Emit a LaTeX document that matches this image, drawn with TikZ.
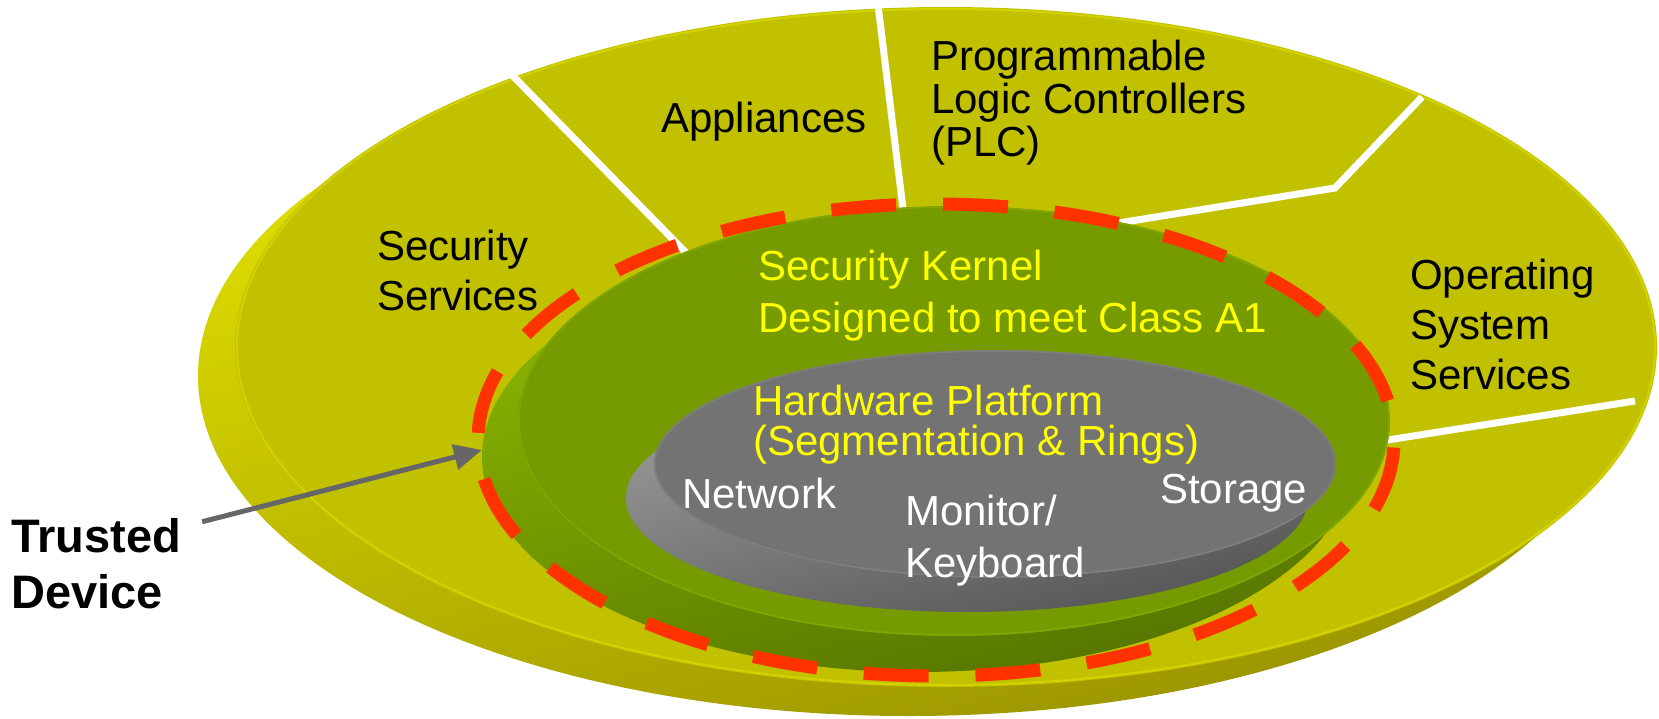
\documentclass[tikz,border=0pt]{standalone}
\usepackage{fontspec}
\setmainfont{Liberation Sans}
\usetikzlibrary{arrows.meta}

\definecolor{ringtop}{HTML}{C1C100}
\definecolor{ringedge}{HTML}{D2D200}
\definecolor{ringhi}{HTML}{E4E400}
\definecolor{ringmid}{HTML}{D6D600}
\definecolor{ringlo}{HTML}{9A9400}
\definecolor{kerneltop}{HTML}{769B00}
\definecolor{kerneledge}{HTML}{80A800}
\definecolor{kernelhi}{HTML}{8CB800}
\definecolor{kernelmid}{HTML}{84AE00}
\definecolor{kernello}{HTML}{567400}
\definecolor{hwtop}{HTML}{737373}
\definecolor{hwedge}{HTML}{7F7F7F}
\definecolor{hwhi}{HTML}{9A9A9A}
\definecolor{hwmid}{HTML}{888888}
\definecolor{hwlo}{HTML}{555555}
\definecolor{perimeter}{HTML}{FF3300}
\definecolor{pointergray}{HTML}{666666}
\definecolor{labelyellow}{HTML}{FFFF00}

\begin{document}
\begin{tikzpicture}[x=1pt,y=-1pt,
  % multi-line labels are placed by the baseline of their last line
  lbl/.style={anchor=base west, inner sep=0pt, align=left,
              font=\fontsize{42}{50}\selectfont},
  divider/.style={white, line width=7pt},
  perimeterline/.style={perimeter, line width=13pt,
              dash pattern=on 65pt off 46.8pt, dash phase=71.8pt},
  pointer/.style={pointergray, line width=5pt,
              -{Triangle[length=28pt,width=25pt]}}]
\useasboundingbox (0,0) rectangle (1659,718);

% outer disc: side rim, then top face
\shade[top color=ringhi, middle color=ringmid, bottom color=ringlo, shading angle=15]
  (909,376) ellipse [x radius=711pt, y radius=340pt];
\fill[ringtop] (946,347) ellipse [x radius=711pt, y radius=340pt];
\draw[ringedge, line width=2pt] (946,347) ellipse [x radius=709pt, y radius=338pt];

% sector dividers on the outer disc
\coordinate (d1o) at (512,75);   \coordinate (d1i) at (700,267);
\coordinate (d2o) at (878,5);    \coordinate (d2i) at (905,225);
\coordinate (d3o) at (1422,97);  \coordinate (d3k) at (1335,188);
\coordinate (d3i) at (1100,226);
\coordinate (d4i) at (1375,442); \coordinate (d4o) at (1635,401);
\draw[divider] (d1o) -- (d1i);
\draw[divider] (d2o) -- (d2i);
\draw[divider] (d3o) -- (d3k) -- (d3i);
\draw[divider] (d4i) -- (d4o);

% security kernel disc
\shade[top color=kernelhi, middle color=kernelmid, bottom color=kernello, shading angle=15]
  (918,457) ellipse [x radius=436pt, y radius=215pt];
\fill[kerneltop] (954,421) ellipse [x radius=436pt, y radius=215pt];
\draw[kerneledge, line width=1.5pt] (954,421) ellipse [x radius=435pt, y radius=214pt];

% hardware platform disc
\shade[top color=hwhi, middle color=hwmid, bottom color=hwlo, shading angle=15]
  (967,498) ellipse [x radius=341pt, y radius=114pt];
\fill[hwtop] (995,464) ellipse [x radius=341pt, y radius=114pt];
\draw[hwedge, line width=1.5pt] (995,464) ellipse [x radius=340pt, y radius=113pt];

% trusted device boundary
\draw[perimeterline] (1394,440) arc [start angle=0, end angle=360, x radius=458pt, y radius=236pt];

% sector labels
\node[lbl] (secsvc) at (377,310) {Security\\Services};
\node[lbl] (appl) at (661,132) {Appliances};
\node[lbl, font=\fontsize{42}{43}\selectfont] (plc) at (931,156) {Programmable\\Logic Controllers\\(PLC)};
\node[lbl] (ossvc) at (1410,389) {Operating\\System\\Services};

% kernel and hardware labels
\node[lbl, text=labelyellow, font=\fontsize{42}{52}\selectfont] (kernel) at (758,332) {Security Kernel\\Designed to meet Class A1};
\node[lbl, text=labelyellow, font=\fontsize{42}{40}\selectfont] (hw) at (753,455) {Hardware Platform\\(Segmentation \& Rings)};
\node[lbl, text=white] (net) at (682,508) {Network};
\node[lbl, text=white, font=\fontsize{42}{52}\selectfont] (mon) at (905,577) {Monitor/\\Keyboard};
\node[lbl, text=white] (stor) at (1160,503) {Storage};

% callout
\node[lbl, font=\bfseries\fontsize{47}{56}\selectfont] (trusted) at (11,608) {Trusted\\Device};
\coordinate (tdtip) at (482,450);
\draw[pointer] ([shift={(21,4)}]trusted.north east) -- (tdtip);
\end{tikzpicture}
\end{document}
